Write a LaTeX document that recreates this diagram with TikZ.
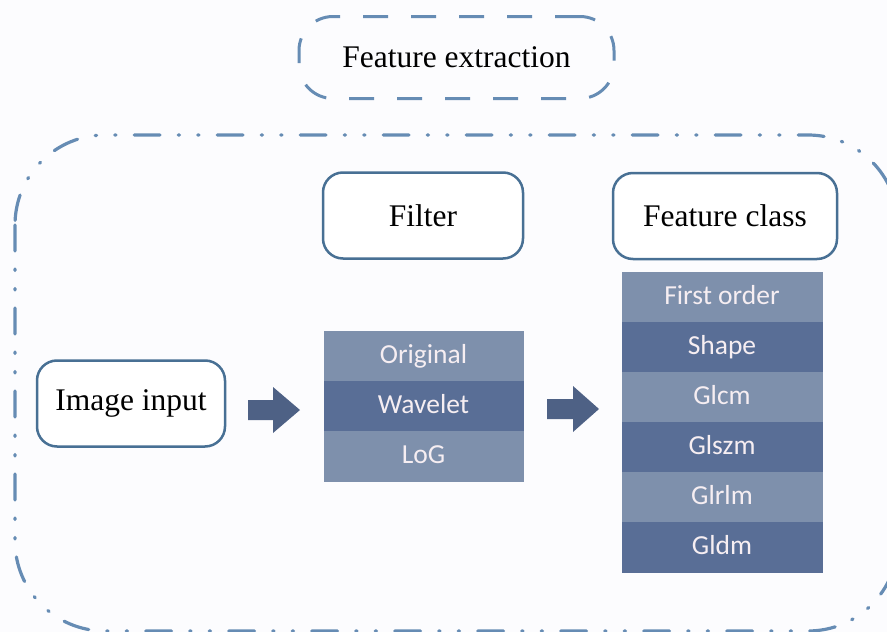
\documentclass[tikz,border=0pt]{standalone}
\usepackage{fontspec}
\setmainfont{Liberation Serif}
\newfontfamily\calib{Carlito}
\definecolor{bg}{RGB}{252,252,254}
\definecolor{dashblue}{RGB}{102,140,180}
\definecolor{edgeblue}{RGB}{72,112,148}
\definecolor{celllight}{RGB}{126,144,172}
\definecolor{celldark}{RGB}{89,110,150}
\definecolor{celltext}{RGB}{246,238,242}
\definecolor{arrowcol}{RGB}{78,97,133}
\tikzset{
  titlebox/.style={draw=dashblue, line width=3pt, dash pattern=on 25pt off 23pt, rounded corners=34pt, fill=bg,
    minimum width=315pt, minimum height=82pt, font=\fontsize{31.5}{36}\selectfont, inner sep=0pt},
  outerbox/.style={draw=dashblue, line width=3.2pt, line cap=round, dash pattern=on 26pt off 18pt on 1.5pt off 18pt on 1.5pt off 18pt, rounded corners=90pt},
  rbox/.style={draw=edgeblue, line width=2.5pt, rounded corners=20pt, fill=white,
    minimum height=86pt, font=\fontsize{31.5}{36}\selectfont, inner sep=0pt},
  cell/.style={minimum height=50pt, inner sep=0pt, outer sep=0pt, anchor=north, text=celltext,
    text height=19pt, text depth=5pt, font=\calib\fontsize{27.5}{32}\selectfont},
  lightcell/.style={cell, fill=celllight, draw=celllight, line width=0.3pt},
  darkcell/.style={cell, fill=celldark, draw=celldark, line width=0.3pt},
  blockarrow/.style={fill=arrowcol}
}
\begin{document}
\begin{tikzpicture}[x=1pt,y=-1pt]
\useasboundingbox (0,0) rectangle (887,632);
\fill[bg] (0,0) rectangle (887,632);
\begin{scope}
\clip (0,0) rectangle (887,632);
\draw[outerbox] (15,135) rectangle (898,631);
\end{scope}
\node[titlebox] (title) at (456.5,57.5) {Feature extraction};
\node[rbox, minimum width=200pt] (filter) at (423,215.5) {Filter};
\node[rbox, minimum width=224pt] (fclass) at (725,216) {Feature class};
\node[rbox, minimum width=188pt] (img) at (131,403.5) {Image input};
% filter stack
\node[lightcell, minimum width=199pt] (orig) at (423.5,331) {Original};
\node[darkcell, minimum width=199pt] (wave) at (orig.south) {Wavelet};
\node[lightcell, minimum width=199pt] (log) at (wave.south) {LoG};
% feature stack
\node[lightcell, minimum width=200pt] (first) at (722,272) {First order};
\node[darkcell, minimum width=200pt] (shape) at (first.south) {Shape};
\node[lightcell, minimum width=200pt] (glcm) at (shape.south) {Glcm};
\node[darkcell, minimum width=200pt] (glszm) at (glcm.south) {Glszm};
\node[lightcell, minimum width=200pt] (glrlm) at (glszm.south) {Glrlm};
\node[darkcell, minimum width=200pt] (gldm) at (glrlm.south) {Gldm};
% block arrows
\coordinate (a1) at (248,410);
\fill[blockarrow] (a1) ++(0,-10) -- ++(25,0) -- ++(0,-13) -- ++(27,23) -- ++(-27,23) -- ++(0,-13) -- ++(-25,0) -- cycle;
\coordinate (a2) at (547,409);
\fill[blockarrow] (a2) ++(0,-10) -- ++(26,0) -- ++(0,-13) -- ++(26,23) -- ++(-26,23) -- ++(0,-13) -- ++(-26,0) -- cycle;
\end{tikzpicture}
\end{document}
